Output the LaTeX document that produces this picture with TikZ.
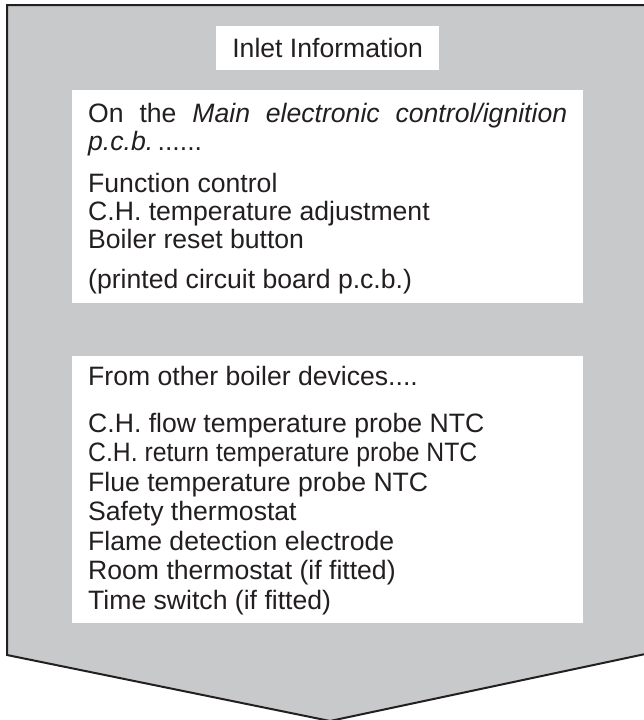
\documentclass[tikz,border=0pt]{standalone}
\usepackage{fontspec}
\setmainfont{Liberation Sans}
\definecolor{panelgray}{RGB}{200,201,203}
\definecolor{ink}{RGB}{35,31,32}
\begin{document}
\begin{tikzpicture}[x=1pt,y=-1pt,
  txt/.style={anchor=base west,inner sep=0pt,font=\fontsize{26.6}{29.5}\selectfont,text=ink},
  panel/.style={fill=white,draw=none,inner sep=0pt,anchor=north west}]
\useasboundingbox (0,0) rectangle (643,720);
\path[fill=panelgray,draw=ink,line width=2pt,line join=miter]
  (7,5) -- (650,5) -- (650,653) -- (330,721) -- (7,655) -- cycle;
% panels
\node[panel,minimum width=223pt,minimum height=44pt] (inletbox) at (216,26) {};
\node[panel,minimum width=511pt,minimum height=213pt] (boardbox) at (72,90) {};
\node[panel,minimum width=511pt,minimum height=267pt] (devbox) at (72,356) {};
% title
\node[txt,anchor=center] (title) at (inletbox.center) {Inlet Information};
% board panel
\node[txt] (b1) at (88,122) {\makebox[479pt][s]{On the \textit{Main electronic control/ignition}}};
\node[txt] (b2) at (88,150) {\textit{p.c.b.}\,......};
\node[txt] (b3) at (88,192) {Function control};
\node[txt] (b4) at (88,220) {C.H. temperature adjustment};
\node[txt] (b5) at (88,248) {Boiler reset button};
\node[txt] (b6) at (88,288) {(printed circuit board p.c.b.)};
% devices panel
\node[txt] (d0) at (88,385) {From other boiler devices....};
\node[txt] (d1) at (88,432) {C.H. flow temperature probe NTC};
\node[txt] (d2) at (88,461.5) {\scalebox{0.93}[1]{C.H. return temperature probe NTC}};
\node[txt] (d3) at (88,491) {Flue temperature probe NTC};
\node[txt] (d4) at (88,520.5) {Safety thermostat};
\node[txt] (d5) at (88,550) {Flame detection electrode};
\node[txt] (d6) at (88,579.5) {Room thermostat (if fitted)};
\node[txt] (d7) at (88,609) {Time switch (if fitted)};
\end{tikzpicture}
\end{document}
